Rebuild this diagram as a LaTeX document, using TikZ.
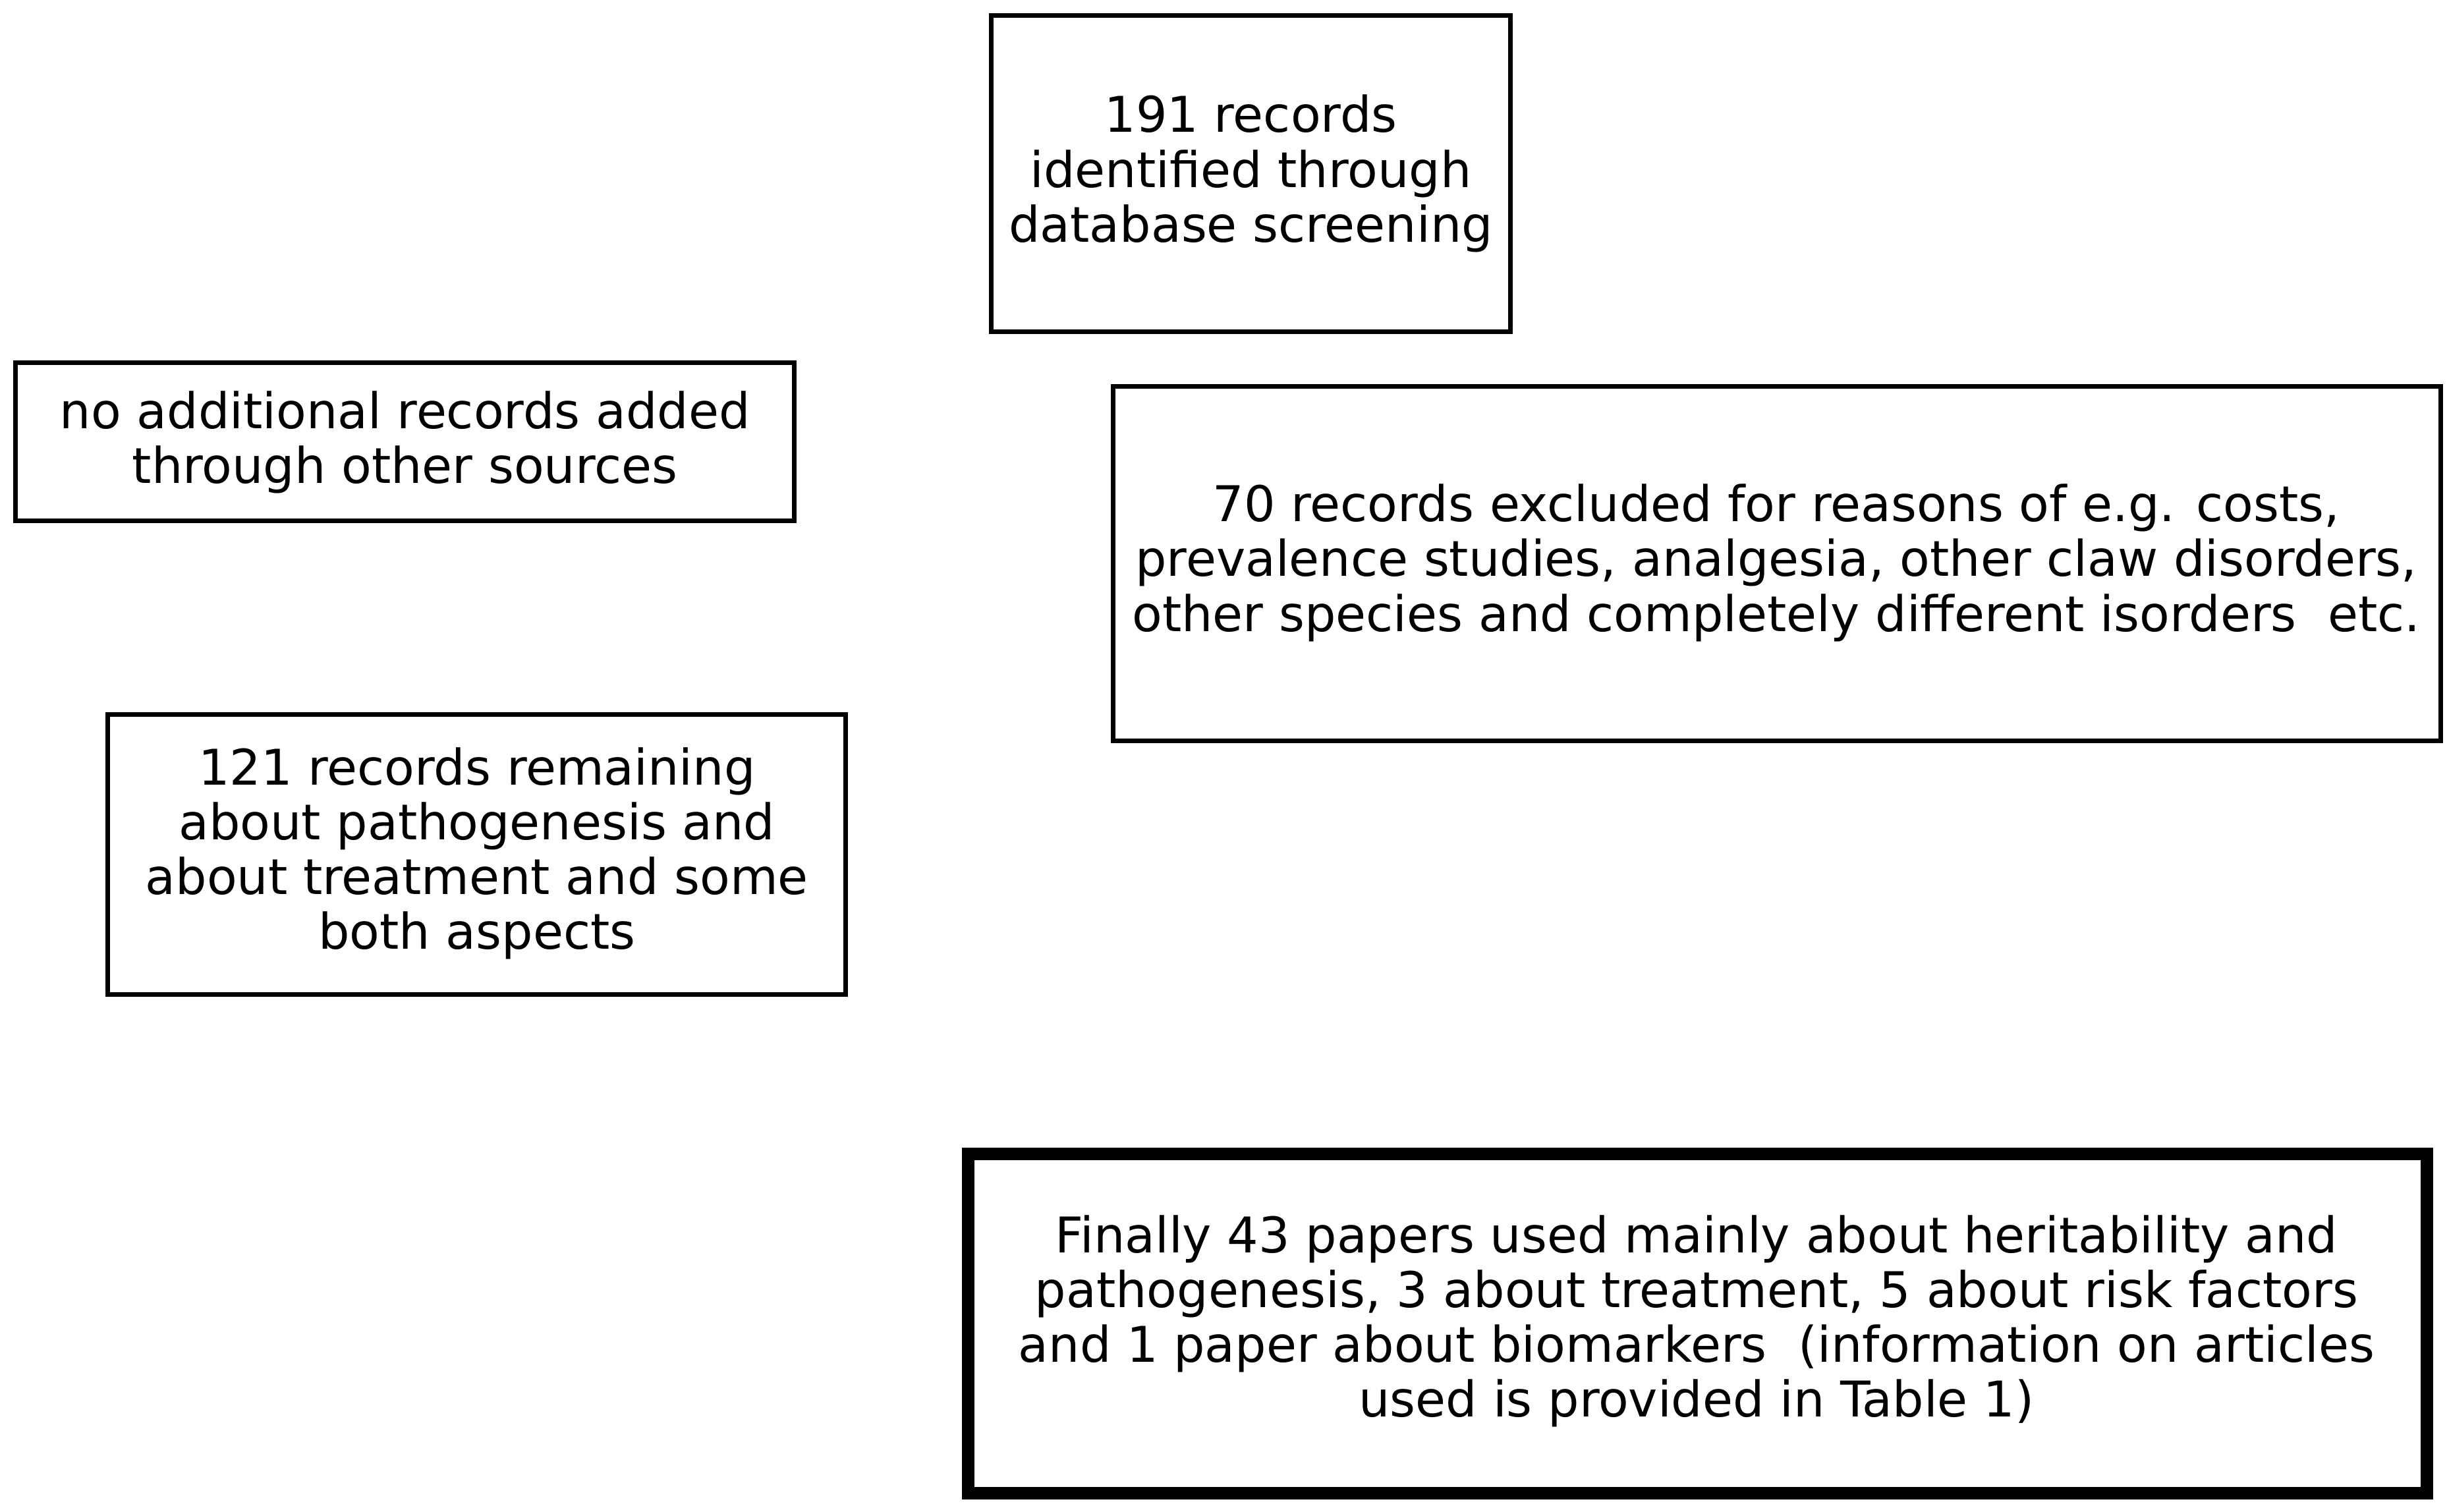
\documentclass[tikz,border=0pt]{standalone}
\usepackage{fontspec}
\setmainfont{DejaVu Sans}
\begin{document}
\begin{tikzpicture}[x=1pt,y=-1pt,
  box/.style={draw,line width=3pt,align=center,font=\fontsize{31.5}{35}\selectfont},
  thick box/.style={box,line width=8pt}]
\useasboundingbox (0,0) rectangle (1565,967);
\draw[box] (634,10) rectangle (966,212);
\node[box,draw=none] (a) at (800,111) {191 records\\identified through\\database screening};
\draw[box] (10,232) rectangle (508,333);
\node[box,draw=none] (b) at (259,283) {no additional records added\\through other sources};
\draw[box] (712,247) rectangle (1561,474);
\node[box,draw=none] (c) at (1136,360) {70 records excluded for reasons of e.g. costs,\\prevalence studies, analgesia, other claw disorders,\\other species and completely different isorders\ \ etc.};
\draw[box] (69,457) rectangle (541,636);
\node[box,draw=none] (d) at (305,546) {121 records remaining\\about pathogenesis and\\about treatment and some\\both aspects};
\draw[thick box] (619,738) rectangle (1552,955);
\node[box,draw=none] (e) at (1085,845) {Finally 43 papers used mainly about heritability and\\pathogenesis, 3 about treatment, 5 about risk factors\\and 1 paper about biomarkers\ \ (information on articles\\used is provided in Table 1)};
\end{tikzpicture}
\end{document}
